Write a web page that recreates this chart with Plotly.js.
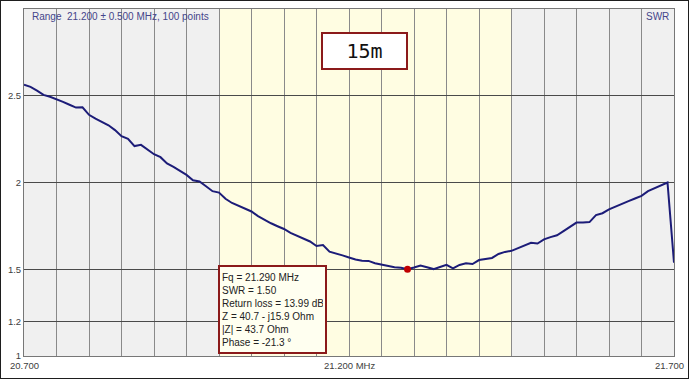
<!DOCTYPE html>
<html>
<head>
<meta charset="utf-8">
<script src="https://cdn.plot.ly/plotly-3.0.1.min.js"></script>
<style>
html,body{margin:0;padding:0;background:#fff;}
#frame{width:687px;height:377px;border:1px solid #1e1e1e;}
#chart{width:687px;height:377px;}
</style>
</head>
<body>
<div id="frame"><div id="chart"></div></div>
<script>
// Sweep: 21.200 ± 0.500 MHz, 101 samples
const fStart = 20.70;
const fStep = 0.01;
const swrValues = [
  2.563, 2.551, 2.530, 2.505, 2.494, 2.481, 2.465, 2.448, 2.432, 2.433,
  2.390, 2.368, 2.350, 2.330, 2.302, 2.267, 2.252, 2.210, 2.217, 2.190,
  2.163, 2.146, 2.110, 2.090, 2.065, 2.044, 2.013, 2.006, 1.978, 1.950,
  1.942, 1.906, 1.882, 1.865, 1.846, 1.833, 1.806, 1.785, 1.765, 1.748,
  1.732, 1.710, 1.692, 1.677, 1.660, 1.634, 1.640, 1.601, 1.592, 1.580,
  1.568, 1.556, 1.549, 1.548, 1.535, 1.528, 1.517, 1.511, 1.508, 1.500,
  1.510, 1.522, 1.512, 1.501, 1.513, 1.525, 1.505, 1.525, 1.534, 1.530,
  1.553, 1.558, 1.565, 1.588, 1.600, 1.606, 1.620, 1.634, 1.652, 1.648,
  1.672, 1.685, 1.696, 1.720, 1.745, 1.769, 1.770, 1.772, 1.812, 1.823,
  1.845, 1.862, 1.878, 1.893, 1.908, 1.923, 1.950, 1.968, 1.985, 2.000,
  1.538
];
const freqs = swrValues.map((_, i) => +(fStart + i * fStep).toFixed(2));

const markerFreq = [21.290];
const markerSwr = [1.50];

const bandStart = 21.000;
const bandEnd = 21.450;

const yTickVals = [1, 1.2, 1.5, 2, 2.5];
const yTickText = ['1', '1.2', '1.5', '2', '2.5'];
const xLabelVals = [20.7, 21.2, 21.7];
const xLabelText = ['20.700', '21.200 MHz', '21.700'];

const infoLines = [
  'Fq = 21.290 MHz',
  'SWR = 1.50',
  'Return loss = 13.99 dB',
  'Z = 40.7 - j15.9 Ohm',
  '|Z| = 43.7 Ohm',
  'Phase = -21.3 °'
];
const headerText = 'Range  21.200 ± 0.500 MHz, 100 points';
const bandTitle = '15m';

const xGrid = [];
for (let k = 0; k <= 20; k++) xGrid.push(+(20.7 + k * 0.05).toFixed(2));

const traces = [
  {
    x: freqs, y: swrValues, type: 'scatter', mode: 'lines',
    line: {color: '#1c1c78', width: 2}, hoverinfo: 'skip', cliponaxis: false
  },
  {
    x: markerFreq, y: markerSwr, type: 'scatter', mode: 'markers',
    marker: {color: '#c00000', size: 7}, hoverinfo: 'skip'
  }
];

const blue = '#45458a';
const annotations = [
  {xref: 'paper', yref: 'paper', x: 0.009, y: 0.977, xanchor: 'left', yanchor: 'middle',
   text: headerText, showarrow: false, font: {family: 'Arial, Liberation Sans', size: 10, color: blue}},
  {xref: 'paper', yref: 'paper', x: 0.995, y: 0.977, xanchor: 'right', yanchor: 'middle',
   text: 'SWR', showarrow: false, font: {family: 'Arial, Liberation Sans', size: 10, color: blue}},
  {xref: 'paper', yref: 'paper', x: (364.5 - 24) / 650, y: (356 - 51) / 347, xanchor: 'center', yanchor: 'middle',
   text: bandTitle, showarrow: false, width: 83, height: 34, borderpad: 0,
   bordercolor: '#8b1a1a', borderwidth: 2, bgcolor: '#ffffff',
   font: {family: 'DejaVu Sans Mono, Liberation Mono, monospace', size: 20, color: '#111'}},
  {xref: 'paper', yref: 'paper', x: (218 - 24) / 650, y: (356 - 265) / 347, xanchor: 'left', yanchor: 'top',
   text: infoLines.join('<br>'), showarrow: false, align: 'left', valign: 'middle',
   width: 101, height: 81, borderpad: 2,
   bordercolor: '#8b1a1a', borderwidth: 2, bgcolor: '#fffff0',
   font: {family: 'Arial, Liberation Sans', size: 10, color: '#222'}}
];
xLabelVals.forEach((v, i) => {
  annotations.push({
    xref: 'x', yref: 'paper', x: v, y: 0, xanchor: 'center', yanchor: 'top',
    yshift: -2, xshift: (i === 2 ? -5 : 0),
    text: xLabelText[i], showarrow: false,
    font: {family: 'Arial, Liberation Sans', size: 9.5, color: '#404040'}
  });
});

const layout = {
  width: 687, height: 377,
  margin: {l: 23, r: 14, t: 8, b: 22, pad: 0},
  paper_bgcolor: '#ffffff',
  plot_bgcolor: '#f0f0f0',
  showlegend: false,
  xaxis: {
    range: [20.7, 21.7], tickvals: xGrid, showticklabels: false, ticks: '',
    showgrid: true, gridcolor: '#8a8a8a', gridwidth: 1,
    zeroline: false, showline: true, linecolor: '#777', linewidth: 1, mirror: true
  },
  yaxis: {
    range: [1, 3], tickvals: yTickVals, ticktext: yTickText, ticks: '',
    showgrid: true, gridcolor: '#4a4a4a', gridwidth: 1,
    zeroline: false, showline: true, linecolor: '#777', linewidth: 1, mirror: true,
    tickfont: {family: 'Arial, Liberation Sans', size: 9.5, color: '#404040'}
  },
  shapes: [
    {type: 'rect', xref: 'x', yref: 'paper', x0: bandStart, x1: bandEnd, y0: 0, y1: 1,
     fillcolor: '#fffde2', line: {width: 0}, layer: 'below'}
  ],
  annotations: annotations
};

Plotly.newPlot('chart', traces, layout, {displayModeBar: false, staticPlot: true});
</script>
</body>
</html>
